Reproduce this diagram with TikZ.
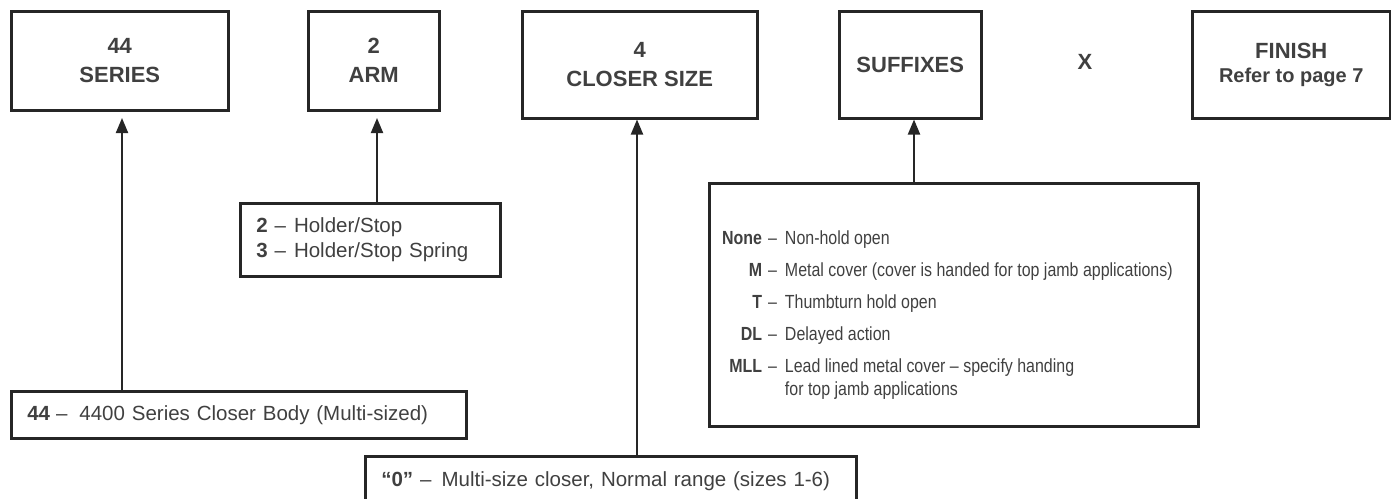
\documentclass[tikz,border=0pt]{standalone}
\usepackage{fontspec}
\setmainfont{Liberation Sans}
\newfontfamily\condfont{Liberation Sans}[FakeStretch=0.84]
\usetikzlibrary{arrows.meta}
\definecolor{txt}{RGB}{64,64,64}
\definecolor{ln}{RGB}{38,38,38}
\newcommand\hdrfont{\fontsize{22}{29}\selectfont\bfseries}
\newcommand\subhdrfont{\fontsize{20}{23}\selectfont\bfseries}
\newcommand\bodyfont{\fontsize{20.5}{25}\selectfont}
\newcommand\sfxfont{\condfont\fontsize{19}{23}\selectfont}
\newcommand\sfxlbl[1]{\textbf{#1}\hspace{6pt}–}
\tikzset{
  hbox/.style={draw=ln, line width=2.5pt, text=txt, inner sep=0pt, anchor=north west, font=\hdrfont, align=center},
  dbox/.style={draw=ln, line width=2.5pt, text=txt, anchor=north west, inner xsep=16pt, inner ysep=0pt, align=left, font=\bodyfont},
  arr/.style={draw=ln, line width=2pt, -{Triangle[width=12pt,length=15pt]}},
  lbl/.style={text=txt, inner sep=0pt, font=\hdrfont}
}
\begin{document}
\begin{tikzpicture}[x=1pt,y=-1pt]
\useasboundingbox (0,0) rectangle (1391,498);
% top boxes
\node[hbox, minimum width=217pt, minimum height=99pt] (series) at (10,10) {44\\SERIES};
\node[hbox, minimum width=131pt, minimum height=99pt] (arm) at (307,10) {2\\ARM};
\node[hbox, minimum width=235pt, minimum height=107pt] (size) at (521,10) {4\\CLOSER SIZE};
\node[hbox, minimum width=142pt, minimum height=107pt] (suffix) at (838,10) {SUFFIXES};
\node[lbl] (x) at (1085,62) {X};
\node[hbox, minimum width=198pt, minimum height=107pt] (finish) at (1191,10) {FINISH\\[-5pt]{\subhdrfont Refer to page 7}};
% description boxes
\node[dbox, minimum width=455pt, minimum height=47pt, text width=423pt] (d44) at (10,390)
  {\textbf{44}\hspace{6pt}–\hspace{12pt}4400 Series Closer Body (Multi-sized)};
\node[dbox, minimum width=260pt, minimum height=73pt, text width=228pt] (d2) at (239,202)
  {\textbf{2}\hspace{7pt}–\hspace{8pt}Holder/Stop\\\textbf{3}\hspace{7pt}–\hspace{8pt}Holder/Stop Spring};
\node[dbox, minimum width=491pt, minimum height=50pt, text width=459pt] (d0) at (364,455)
  {\textbf{“0”}\hspace{7pt}–\hspace{10pt}Multi-size closer, Normal range (sizes 1-6)};
\node[draw=ln, line width=2.5pt, anchor=north west, inner sep=0pt, minimum width=489pt, minimum height=243pt] (dsfx) at (708,182) {};
\node[anchor=base west, inner sep=0pt, text=txt, font=\sfxfont] (sfxt) at (722,244)
  {\begin{tabular}[t]{@{}r@{\hspace{8pt}}l@{}}
   \sfxlbl{None} & Non-hold open\\[9pt]
   \sfxlbl{M} & Metal cover (cover is handed for top jamb applications)\\[9pt]
   \sfxlbl{T} & Thumbturn hold open\\[9pt]
   \sfxlbl{DL} & Delayed action\\[9pt]
   \sfxlbl{MLL} & Lead lined metal cover – specify handing\\
   & for top jamb applications
   \end{tabular}};
% connectors
\coordinate (x44) at (122,118);
\coordinate (x2) at (377,118);
\coordinate (x4) at (637,0);
\coordinate (xs) at (914,0);
\draw[arr] (d44.north -| x44) -- (x44);
\draw[arr] (d2.north -| x2) -- (x2);
\draw[arr] (d0.north -| x4) -- (size.south -| x4);
\draw[arr] (dsfx.north -| xs) -- (suffix.south -| xs);
\end{tikzpicture}
\end{document}
